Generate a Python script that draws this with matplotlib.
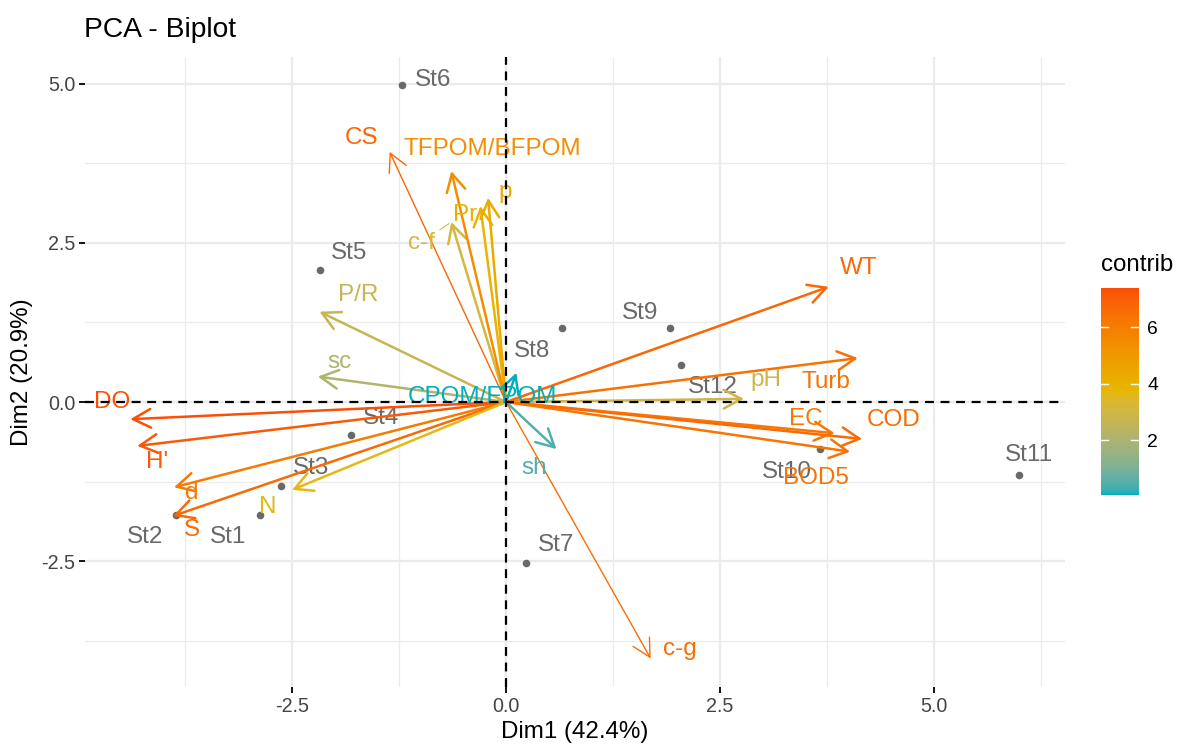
import numpy as np
import matplotlib
matplotlib.use("Agg")
import matplotlib.pyplot as plt
from matplotlib.colors import ListedColormap, Normalize, to_rgb

plt.rcParams['font.family'] = ['Liberation Sans', 'DejaVu Sans']

# individuals (stations)
st_names = ['St1', 'St2', 'St3', 'St4', 'St5', 'St6', 'St7', 'St8', 'St9', 'St10', 'St11', 'St12']
st_x = [-2.87, -3.86, -2.63, -1.81, -2.17, -1.21, 0.23, 0.65, 1.92, 3.67, 5.99, 2.04]
st_y = [-1.78, -1.78, -1.32, -0.52, 2.08, 4.98, -2.53, 1.16, 1.16, -0.74, -1.15, 0.58]

# variables
var_names = ['DO', "H'", 'd', 'S', 'N', 'sc', 'P/R', 'c-f', 'Pr', 'p', 'TFPOM/BFPOM', 'CS',
             'CPOM/FPOM', 'sh', 'c-g', 'WT', 'Turb', 'pH', 'EC', 'COD', 'BOD5']
var_x = [-4.39, -4.31, -3.88, -3.89, -2.50, -2.20, -2.18, -0.64, -0.30, -0.21, -0.64, -1.36,
         0.12, 0.59, 1.69, 3.77, 4.11, 2.78, 3.84, 4.16, 4.02]
var_y = [-0.27, -0.69, -1.34, -1.79, -1.38, 0.40, 1.42, 2.83, 3.08, 3.21, 3.63, 3.93,
         0.46, -0.74, -4.03, 1.81, 0.69, 0.05, -0.49, -0.58, -0.78]
contrib = [7.40, 7.10, 6.10, 6.60, 3.60, 2.10, 2.70, 3.10, 3.90, 4.30, 5.40, 6.75,
           0.07, 0.45, 6.50, 6.70, 6.40, 2.90, 6.20, 6.55, 6.30]
grad_cols = ['#00AFBB', '#E7B800', '#FC4E07']

# label offsets in pixels (repel-like placement)
st_off = [(-32, -22), (-31, -22), (30, 18), (30, 17), (29, 17), (31, 5), (30, 18),
          (-30, -23), (-30, 15), (-33, -23), (10, 20), (32, -22)]
var_off = [(-18, 17), (20, -16), (18, -6), (19, -14), (-24, -17), (22, 15), (39, 17),
           (-30, -21), (-15, -9), (17, 6), (41, 22), (-28, 14), (-34, -24), (-22, -19),
           (29, 10), (30, 19), (-32, -24), (22, 19), (-29, 14), (32, 19), (-34, -26)]


# gradient interpolated in Lab space, like ggplot2's gradientn
def srgb_to_lab(c):
    c = np.asarray(c, float)
    lin = np.where(c <= 0.04045, c / 12.92, ((c + 0.055) / 1.055) ** 2.4)
    m = np.array([[0.4124, 0.3576, 0.1805],
                  [0.2126, 0.7152, 0.0722],
                  [0.0193, 0.1192, 0.9505]])
    xyz = m @ lin / np.array([0.95047, 1.0, 1.08883])
    f = np.where(xyz > 0.008856, np.cbrt(xyz), 7.787 * xyz + 16 / 116)
    return np.array([116 * f[1] - 16, 500 * (f[0] - f[1]), 200 * (f[1] - f[2])])


def lab_to_srgb(lab):
    L, a, b = lab
    fy = (L + 16) / 116
    fx = fy + a / 500
    fz = fy - b / 200
    f = np.array([fx, fy, fz])
    xyz = np.where(f ** 3 > 0.008856, f ** 3, (f - 16 / 116) / 7.787)
    xyz = xyz * np.array([0.95047, 1.0, 1.08883])
    minv = np.array([[3.2406, -1.5372, -0.4986],
                     [-0.9689, 1.8758, 0.0415],
                     [0.0557, -0.2040, 1.0570]])
    lin = minv @ xyz
    lin = np.clip(lin, 0, 1)
    c = np.where(lin <= 0.0031308, 12.92 * lin, 1.055 * lin ** (1 / 2.4) - 0.055)
    return np.clip(c, 0, 1)


labs = [srgb_to_lab(to_rgb(h)) for h in grad_cols]
cols = []
for t in np.linspace(0, 1, 256):
    seg = min(int(t * 2), 1)
    u = t * 2 - seg
    cols.append(lab_to_srgb(labs[seg] * (1 - u) + labs[seg + 1] * u))
cmap = ListedColormap(cols)
norm = Normalize(vmin=min(contrib), vmax=max(contrib))

fig = plt.figure(figsize=(11.8, 7.51), dpi=100)
ax = fig.add_axes([0.072, 0.085, 0.8305, 0.839])

ax.set_xlim(-4.92, 6.53)
ax.set_ylim(-4.48, 5.42)
ax.set_xticks([-2.5, 0, 2.5, 5.0])
ax.set_xticklabels(['-2.5', '0.0', '2.5', '5.0'])
ax.set_yticks([-2.5, 0, 2.5, 5.0])
ax.set_yticklabels(['-2.5', '0.0', '2.5', '5.0'])
ax.set_xticks([-3.75, -1.25, 1.25, 3.75, 6.25], minor=True)
ax.set_yticks([-3.75, -1.25, 1.25, 3.75], minor=True)
ax.grid(True, which='major', color='#EBEBEB', lw=1.6)
ax.grid(True, which='minor', color='#EBEBEB', lw=0.9)
ax.set_axisbelow(True)
for s in ax.spines.values():
    s.set_visible(False)
ax.tick_params(which='major', length=4, width=1.3, color='black', labelsize=14.2,
               labelcolor='#444444', pad=3)
ax.tick_params(which='minor', length=0)

ax.axhline(0, color='black', ls=(0, (4, 3)), lw=1.6, zorder=6)
ax.axvline(0, color='black', ls=(0, (4, 3)), lw=1.6, zorder=6)

# individuals
ax.scatter(st_x, st_y, s=30, color='#696969', zorder=2, linewidths=0)
for name, x, y, (dx, dy) in zip(st_names, st_x, st_y, st_off):
    ax.annotate(name, (x, y), xytext=(dx, dy), textcoords='offset pixels',
                ha='center', va='center', fontsize=17.5, color='#696969', zorder=3)

# variables
thin = {'CS', 'c-g'}
for name, x, y, c, (dx, dy) in zip(var_names, var_x, var_y, contrib, var_off):
    col = cmap(norm(c))
    ax.annotate('', xy=(x, y), xytext=(0, 0),
                arrowprops=dict(arrowstyle='->, head_length=0.85, head_width=0.45',
                                color=col, lw=1.0 if name in thin else 1.8,
                                shrinkA=0, shrinkB=0, mutation_scale=15),
                zorder=4)
    if name == 'c-f':
        ax.annotate(name, (x, y), xytext=(dx, dy), textcoords='offset pixels',
                    ha='center', va='center', fontsize=17.5, color=col, zorder=5,
                    arrowprops=dict(arrowstyle='-', color=col, lw=0.8,
                                    shrinkA=2, shrinkB=2))
    else:
        ax.annotate(name, (x, y), xytext=(dx, dy), textcoords='offset pixels',
                    ha='center', va='center', fontsize=17.5, color=col, zorder=5)

ax.set_xlabel('Dim1 (42.4%)', fontsize=17.4, labelpad=4)
ax.set_ylabel('Dim2 (20.9%)', fontsize=17.4, labelpad=6)
fig.text(0.071, 0.96, 'PCA - Biplot', fontsize=20.3, ha='left', va='center')

# colorbar
cax = fig.add_axes([0.933, 0.341, 0.032, 0.276])
grad = np.linspace(norm.vmin, norm.vmax, 256).reshape(-1, 1)
cax.imshow(grad, aspect='auto', cmap=cmap, norm=norm, origin='lower',
           extent=[0, 1, norm.vmin, norm.vmax])
cax.set_xlim(0, 1)
cax.set_ylim(norm.vmin, norm.vmax)
cax.set_xticks([])
cax.set_yticks([2, 4, 6])
cax.yaxis.tick_right()
cax.tick_params(length=0, labelsize=13.9, labelcolor='black', pad=6)
for t in [2, 4, 6]:
    cax.plot([0, 0.2], [t, t], color='white', lw=1)
    cax.plot([0.8, 1], [t, t], color='white', lw=1)
for s in cax.spines.values():
    s.set_visible(False)
fig.text(0.933, 0.647, 'contrib', fontsize=17.4, ha='left', va='center')

fig.savefig('out.png', dpi=100)
